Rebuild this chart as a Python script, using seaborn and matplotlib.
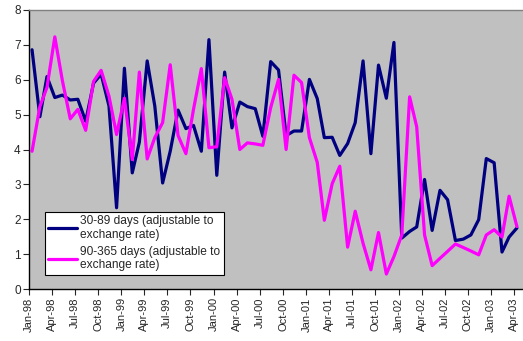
import numpy as np
import pandas as pd
import matplotlib
matplotlib.use("Agg")
import matplotlib.pyplot as plt
import matplotlib.dates as mdates
import seaborn as sns

# Monthly interest rates, Jan-98 .. Apr-03 (percent)
start_month = "1998-01-01"
n_months = 64

rate_30_89 = [
    6.86, 4.94, 6.09, 5.49, 5.56, 5.42, 5.44, 4.81, 5.90, 6.16, 5.25, 2.33,
    6.33, 3.33, 4.21, 6.54, 5.25, 3.04, 3.95, 5.13, 4.60, 4.69, 3.95, 7.15,
    3.26, 6.22, 4.62, 5.36, 5.23, 5.17, 4.38, 6.52, 6.28, 4.40, 4.53, 4.53,
    6.01, 5.46, 4.34, 4.35, 3.83, 4.17, 4.77, 6.54, 3.88, 6.42, 5.47, 7.07,
    1.46, 1.65, 1.78, 3.14, 1.68, 2.83, 2.56, 1.39, 1.43, 1.55, 1.99, 3.74,
    3.62, 1.06, 1.49, 1.75,
]
rate_90_365 = [
    3.95, 5.23, 5.78, 7.23, 5.97, 4.88, 5.15, 4.55, 5.95, 6.27, 5.53, 4.43,
    5.47, 3.71, 6.22, 3.73, 4.34, 4.77, 6.43, 4.40, 3.88, 5.15, 6.32, 4.05,
    4.08, 6.06, 5.44, 4.00, 4.19, 4.16, 4.12, 5.20, 6.01, 4.00, 6.13, 5.92,
    4.34, 3.63, 1.97, 3.02, 3.52, 1.20, 2.23, 1.31, 0.55, 1.62, 0.43, 0.93,
    1.55, 5.51, 4.65, 1.55, 0.67, 0.88, 1.08, 1.29, 1.19, 1.09, 0.98, 1.55,
    1.70, 1.49, 2.66, 1.79,
]
series_names = [
    "30-89 days (adjustable to\nexchange rate)",
    "90-365 days (adjustable to\nexchange rate)",
]
series_colors = ["#000080", "#FF00FF"]

dates = pd.date_range(start_month, periods=n_months, freq="MS") + pd.Timedelta(days=12)
df = pd.concat([
    pd.DataFrame({"date": dates, "rate": rate_30_89, "series": series_names[0]}),
    pd.DataFrame({"date": dates, "rate": rate_90_365, "series": series_names[1]}),
])

sns.set_style("white")
plt.rcParams["font.family"] = ["Liberation Sans", "DejaVu Sans"]

fig = plt.figure(figsize=(5.23, 3.41), dpi=100)
ax = fig.add_axes([29 / 523, 52 / 341, 494 / 523, 279 / 341])
ax.set_facecolor("#C0C0C0")

sns.lineplot(data=df, x="date", y="rate", hue="series", hue_order=series_names,
             palette=series_colors, linewidth=2.3, ax=ax, legend=False)

ax.set_xlim(pd.Timestamp("1998-01-01"), pd.Timestamp("2003-05-07"))
ax.set_ylim(0, 8)
ax.set_yticks(range(0, 9))
ax.xaxis.set_major_locator(mdates.MonthLocator(bymonth=(1, 4, 7, 10)))
ax.xaxis.set_major_formatter(mdates.DateFormatter("%b-%y"))
ax.tick_params(axis="x", rotation=90, labelsize=8, length=4, width=0.8,
               direction="out", bottom=True, pad=2)
ax.tick_params(axis="y", labelsize=8.5, length=4, width=0.8,
               direction="out", left=True, pad=2)
ax.set_xlabel("")
ax.set_ylabel("")

for side in ("left", "bottom"):
    ax.spines[side].set_color("black")
    ax.spines[side].set_linewidth(1.0)
ax.spines["top"].set_color("#808080")
ax.spines["top"].set_linewidth(1.0)
ax.spines["right"].set_visible(False)

handles = [plt.Line2D([], [], color=c, linewidth=2.3) for c in series_colors]
leg = ax.legend(handles, series_names, loc="lower left",
                bbox_to_anchor=(0.032, 0.05), borderaxespad=0,
                fontsize=8.6, frameon=True, fancybox=False, framealpha=1,
                handlelength=2.4, handletextpad=0.25, labelspacing=0.4,
                borderpad=0.3)
leg.get_frame().set_edgecolor("black")
leg.get_frame().set_linewidth(0.8)
leg.get_frame().set_facecolor("white")

fig.savefig("out.png", dpi=100)
